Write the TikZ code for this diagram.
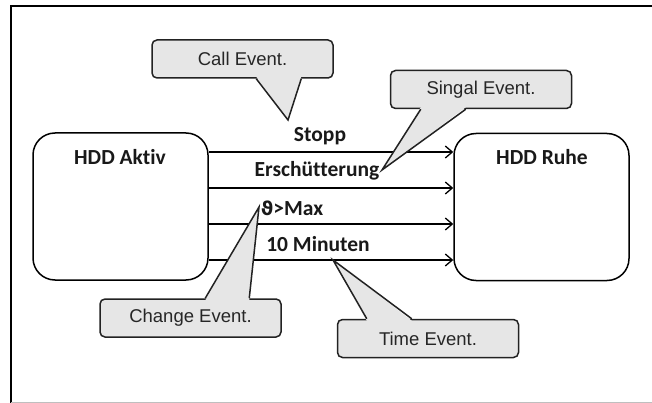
\documentclass[tikz,border=0pt]{standalone}
\usepackage{fontspec}
\setmainfont{Carlito}[Ligatures=NoCommon]
\newfontfamily\callfont{Liberation Sans}
\newfontfamily\symfont{DejaVu Sans}
\usetikzlibrary{arrows.meta,calc}
\definecolor{callfill}{HTML}{E6E6E6}
\definecolor{calldraw}{HTML}{222222}
\tikzset{
  statebox/.style={draw=black, line width=1.5pt, rounded corners=22pt, fill=white,
    minimum width=175pt, minimum height=147pt, inner sep=0pt},
  lbl/.style={font=\fontsize{21.5}{24}\selectfont\bfseries, inner sep=0pt, text=black!90},
  callbox/.style={draw=calldraw, line width=1.5pt, rounded corners=5pt, fill=callfill,
    minimum width=181pt, minimum height=38pt, inner sep=0pt,
    font=\callfont\fontsize{18.5}{20}\selectfont, text=black!85},
  callfillp/.style={fill=callfill},
  callline/.style={draw=calldraw, line width=1.5pt, line join=miter},
  arr/.style={draw=black, line width=1.3pt, -{Straight Barb[length=7pt,width=12pt,line width=1.3pt]}},
}
\begin{document}
\begin{tikzpicture}[x=1pt,y=-1pt]
\useasboundingbox (0,0) rectangle (652,403);
\fill[white] (0,0) rectangle (652,403);
% frame
\draw[line width=1.4pt] (11,403) -- (11,6) -- (652,6);
\draw[line width=1pt, black!25] (11,402.5) -- (652,402.5);

% states
\node[statebox] (aktiv) at (120.5,206.5) {};
\node[statebox] (ruhe) at (541.5,207) {};
\node[lbl] (aktivlbl) at (120,157) {HDD Aktiv};
\node[lbl] (ruhelbl) at (542,157) {HDD Ruhe};

% transitions
\coordinate (y1) at (0,152);
\coordinate (y2) at (0,188);
\coordinate (y3) at (0,224);
\coordinate (y4) at (0,260);
\draw[arr] (aktiv.east |- y1) -- (ruhe.west |- y1);
\draw[arr] (aktiv.east |- y2) -- (ruhe.west |- y2);
\draw[arr] (aktiv.east |- y3) -- (ruhe.west |- y3);
\draw[arr] (aktiv.east |- y4) -- (ruhe.west |- y4);

\node[lbl] (stopp) at (320,136) {Stopp};
\node[lbl] (ersch) at (317,171) {Erschütterung};
\node[lbl] (theta) at (292,208) {{\symfont\fontsize{19}{22}\selectfont\bfseries ϑ}>Max};
\node[lbl] (minuten) at (318,244) {10 Minuten};

% callouts
\node[callbox] (call) at (242.5,59) {Call Event.};
\node[callbox] (sig) at (481,89.5) {Singal Event.};
\node[callbox] (chg) at (190.5,318) {Change Event.};
\node[callbox] (time) at (428,338.5) {Time Event.};

\coordinate (calltip) at (288,120);
\coordinate (sigtip) at (382,170);
\coordinate (chgtip) at (259,207);
\coordinate (timetip) at (333,260);

% Call pointer
\fill[callfillp] ($(call.south west)+(105,-2)$) -- (calltip) -- ($(call.south west)+(150,-2)$) -- cycle;
\draw[callline] ($(call.south west)+(105,0)$) -- (calltip) -- ($(call.south west)+(150,0)$);
% Singal pointer
\fill[callfillp] ($(sig.south west)+(31,-2)$) -- (sigtip) -- ($(sig.south west)+(76,-2)$) -- cycle;
\draw[callline] ($(sig.south west)+(31,0)$) -- (sigtip) -- ($(sig.south west)+(76,0)$);
% Change pointer
\fill[callfillp] ($(chg.north west)+(106,2)$) -- (chgtip) -- ($(chg.north west)+(150,2)$) -- cycle;
\draw[callline] ($(chg.north west)+(106,0)$) -- (chgtip) -- ($(chg.north west)+(150,0)$);
% Time pointer
\fill[callfillp] ($(time.north west)+(30,2)$) -- (timetip) -- ($(time.north west)+(75,2)$) -- cycle;
\draw[callline] ($(time.north west)+(30,0)$) -- (timetip) -- ($(time.north west)+(75,0)$);
\end{tikzpicture}
\end{document}
